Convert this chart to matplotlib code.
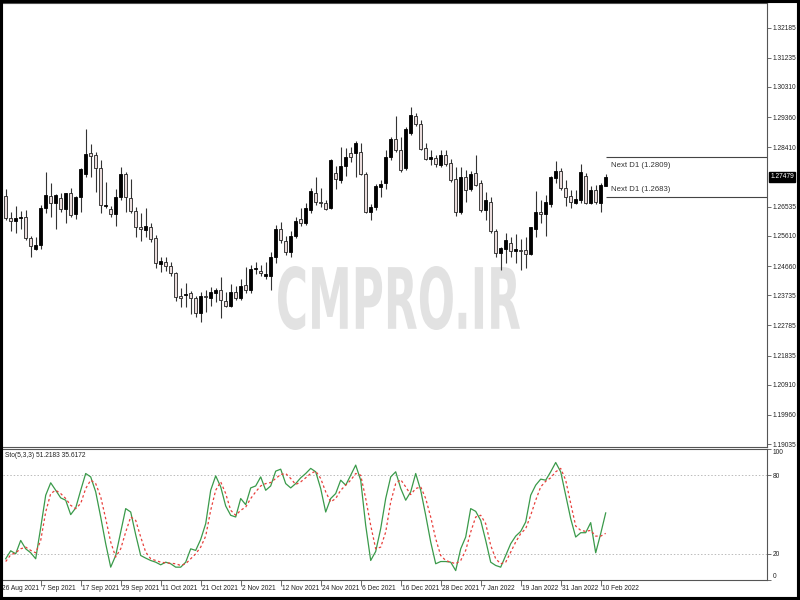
import numpy as np
import matplotlib
matplotlib.use('Agg')
import matplotlib.pyplot as plt
from matplotlib.textpath import TextPath
from matplotlib.patches import PathPatch, Rectangle
from matplotlib.font_manager import FontProperties
from matplotlib.transforms import Affine2D, blended_transform_factory

plt.rcParams['font.family'] = ['Liberation Sans', 'DejaVu Sans']

# daily GBPUSD-like candles, 27 Aug 2021 .. 11 Feb 2022
opens = [1.2687, 1.2617, 1.2607, 1.2617, 1.2622, 1.2554, 1.2521, 1.2533, 1.2648, 1.2688,
         1.2664, 1.2682, 1.2645, 1.2696, 1.2629, 1.2683, 1.2757, 1.2822, 1.2816, 1.2775,
         1.2656, 1.2647, 1.2629, 1.2685, 1.2756, 1.2680, 1.2641, 1.2589, 1.2580, 1.2590,
         1.2554, 1.2473, 1.2478, 1.2466, 1.2445, 1.2372, 1.2375, 1.2380, 1.2364, 1.2317,
         1.2372, 1.2366, 1.2381, 1.2390, 1.2357, 1.2340, 1.2383, 1.2366, 1.2405, 1.2390,
         1.2457, 1.2451, 1.2435, 1.2435, 1.2494, 1.2582, 1.2546, 1.2511, 1.2561, 1.2615,
         1.2601, 1.2643, 1.2698, 1.2669, 1.2664, 1.2648, 1.2759, 1.2738, 1.2782, 1.2822,
         1.2822, 1.2827, 1.2757, 1.2638, 1.2652, 1.2715, 1.2727, 1.2811, 1.2866, 1.2832,
         1.2775, 1.2885, 1.2940, 1.2914, 1.2838, 1.2805, 1.2806, 1.2785, 1.2817, 1.2790,
         1.2740, 1.2635, 1.2746, 1.2708, 1.2759, 1.2727, 1.2643, 1.2669, 1.2575, 1.2506,
         1.2519, 1.2538, 1.2515, 1.2517, 1.2517, 1.2504, 1.2582, 1.2638, 1.2630, 1.2662,
         1.2743, 1.2767, 1.2712, 1.2687, 1.2666, 1.2675, 1.2750, 1.2664, 1.2706, 1.2666,
         1.2719]
highs = [1.2709, 1.2638, 1.2656, 1.2641, 1.2643, 1.2561, 1.2557, 1.2659, 1.2764, 1.2727,
         1.2694, 1.2698, 1.2698, 1.2712, 1.2687, 1.2775, 1.2898, 1.2851, 1.2827, 1.2801,
         1.2732, 1.2656, 1.2709, 1.2778, 1.2764, 1.2740, 1.2652, 1.2633, 1.2648, 1.2603,
         1.2564, 1.2496, 1.2494, 1.2480, 1.2448, 1.2398, 1.2411, 1.2386, 1.2372, 1.2383,
         1.2390, 1.2400, 1.2396, 1.2430, 1.2383, 1.2409, 1.2404, 1.2424, 1.2464, 1.2469,
         1.2480, 1.2469, 1.2480, 1.2511, 1.2596, 1.2606, 1.2561, 1.2575, 1.2622, 1.2648,
         1.2664, 1.2712, 1.2746, 1.2712, 1.2675, 1.2803, 1.2782, 1.2843, 1.2838, 1.2843,
         1.2859, 1.2854, 1.2764, 1.2662, 1.2725, 1.2738, 1.2832, 1.2873, 1.2938, 1.2874,
         1.2904, 1.2969, 1.2948, 1.2927, 1.2854, 1.2832, 1.2817, 1.2832, 1.2832, 1.2803,
         1.2780, 1.2780, 1.2769, 1.2767, 1.2817, 1.2736, 1.2701, 1.2683, 1.2582, 1.2527,
         1.2571, 1.2559, 1.2567, 1.2550, 1.2559, 1.2588, 1.2704, 1.2675, 1.2690, 1.2750,
         1.2799, 1.2775, 1.2738, 1.2706, 1.2706, 1.2788, 1.2759, 1.2717, 1.2722, 1.2727,
         1.2757]
lows = [1.2612, 1.2575, 1.2570, 1.2582, 1.2548, 1.2496, 1.2517, 1.2519, 1.2633, 1.2622,
        1.2582, 1.2638, 1.2603, 1.2622, 1.2616, 1.2638, 1.2748, 1.2748, 1.2701, 1.2633,
        1.2648, 1.2622, 1.2593, 1.2675, 1.2636, 1.2633, 1.2559, 1.2546, 1.2559, 1.2543,
        1.2459, 1.2448, 1.2451, 1.2435, 1.2356, 1.2338, 1.2338, 1.2314, 1.2306, 1.2290,
        1.2322, 1.2340, 1.2354, 1.2301, 1.2338, 1.2338, 1.2359, 1.2359, 1.2380, 1.2380,
        1.2441, 1.2435, 1.2424, 1.2390, 1.2475, 1.2540, 1.2501, 1.2496, 1.2554, 1.2593,
        1.2596, 1.2633, 1.2659, 1.2652, 1.2643, 1.2645, 1.2708, 1.2729, 1.2750, 1.2795,
        1.2746, 1.2754, 1.2633, 1.2611, 1.2643, 1.2685, 1.2708, 1.2801, 1.2827, 1.2764,
        1.2769, 1.2880, 1.2908, 1.2832, 1.2801, 1.2785, 1.2780, 1.2780, 1.2782, 1.2732,
        1.2624, 1.2630, 1.2669, 1.2704, 1.2717, 1.2638, 1.2611, 1.2569, 1.2494, 1.2454,
        1.2475, 1.2496, 1.2475, 1.2454, 1.2459, 1.2501, 1.2559, 1.2601, 1.2561, 1.2653,
        1.2729, 1.2706, 1.2656, 1.2648, 1.2662, 1.2666, 1.2662, 1.2662, 1.2662, 1.2638,
        1.2717]
closes = [1.2618, 1.2607, 1.2617, 1.2620, 1.2554, 1.2529, 1.2532, 1.2648, 1.2691, 1.2664,
          1.2691, 1.2645, 1.2696, 1.2627, 1.2683, 1.2772, 1.2818, 1.2813, 1.2775, 1.2659,
          1.2659, 1.2629, 1.2685, 1.2757, 1.2683, 1.2641, 1.2588, 1.2582, 1.2593, 1.2551,
          1.2475, 1.2483, 1.2465, 1.2443, 1.2369, 1.2364, 1.2378, 1.2366, 1.2317, 1.2372,
          1.2369, 1.2383, 1.2390, 1.2359, 1.2340, 1.2383, 1.2366, 1.2403, 1.2390, 1.2457,
          1.2460, 1.2443, 1.2441, 1.2494, 1.2582, 1.2548, 1.2511, 1.2561, 1.2609, 1.2601,
          1.2648, 1.2704, 1.2669, 1.2666, 1.2645, 1.2801, 1.2740, 1.2782, 1.2811, 1.2809,
          1.2854, 1.2757, 1.2638, 1.2653, 1.2717, 1.2725, 1.2809, 1.2866, 1.2832, 1.2769,
          1.2898, 1.2943, 1.2914, 1.2835, 1.2803, 1.2809, 1.2788, 1.2817, 1.2788, 1.2738,
          1.2635, 1.2746, 1.2706, 1.2757, 1.2722, 1.2643, 1.2675, 1.2575, 1.2506, 1.2522,
          1.2548, 1.2515, 1.2519, 1.2514, 1.2504, 1.2588, 1.2638, 1.2630, 1.2669, 1.2746,
          1.2767, 1.2712, 1.2685, 1.2669, 1.2679, 1.2764, 1.2666, 1.2706, 1.2669, 1.2722,
          1.27479]

# Stochastic(5,3,3): main (%K) and signal (%D)
sto_main = [16.2, 22.3, 20.0, 30.2, 23.8, 20.8, 16.2, 40.0, 64.7, 74.2,
            68.5, 62.7, 60.9, 49.9, 55.0, 68.5, 81.3, 78.7, 67.3, 48.1,
            27.7, 9.8, 18.7, 36.6, 54.5, 51.9, 34.6, 18.7, 16.7, 14.9,
            13.6, 11.6, 13.6, 12.4, 9.8, 9.8, 13.6, 23.8, 22.6, 31.0,
            43.0, 68.5, 79.5, 71.1, 56.5, 49.4, 48.1, 62.2, 57.5, 70.3,
            71.8, 78.7, 68.5, 71.8, 83.1, 84.6, 73.6, 70.3, 73.6, 78.0,
            81.3, 85.2, 82.6, 69.8, 51.9, 62.2, 66.0, 76.2, 72.4, 80.0,
            87.7, 76.2, 41.7, 14.9, 21.8, 39.2, 62.2, 78.7, 82.6, 70.0,
            60.9, 67.3, 81.3, 68.5, 49.4, 29.0, 12.4, 14.1, 14.1, 13.6,
            7.2, 23.8, 32.8, 54.5, 52.4, 45.5, 30.2, 13.6, 11.1, 9.8,
            18.7, 27.7, 33.5, 37.1, 44.3, 64.7, 72.4, 77.0, 76.2, 82.6,
            89.7, 82.6, 64.7, 46.8, 32.8, 36.1, 36.1, 43.8, 20.8, 35.4,
            51.2183]
sto_signal = [14.1, 19.2, 20.8, 23.8, 25.1, 22.6, 20.8, 30.2, 51.9, 66.0,
              68.5, 66.0, 62.2, 57.0, 54.5, 58.4, 69.8, 76.2, 73.6, 63.5,
              46.8, 29.0, 17.5, 23.8, 36.6, 48.1, 45.5, 32.8, 21.3, 16.2,
              14.9, 13.6, 13.1, 12.8, 12.4, 11.1, 12.4, 16.2, 20.0, 25.1,
              33.5, 53.2, 68.5, 74.9, 66.0, 53.2, 49.4, 53.2, 55.7, 62.2,
              67.3, 71.8, 73.6, 74.4, 77.5, 80.5, 81.3, 77.5, 72.9, 74.9,
              78.0, 81.3, 83.1, 77.5, 67.3, 59.6, 62.2, 68.5, 72.4, 76.2,
              81.3, 80.0, 62.2, 41.7, 23.8, 25.1, 36.6, 59.6, 73.6, 76.6,
              71.1, 65.2, 69.8, 71.1, 62.2, 48.1, 31.5, 18.7, 14.9, 13.6,
              12.4, 14.9, 22.6, 36.6, 48.1, 49.4, 43.0, 26.4, 16.2, 12.4,
              13.6, 21.3, 29.0, 35.4, 39.2, 49.4, 60.9, 71.1, 75.4, 78.0,
              82.6, 85.2, 76.2, 58.4, 41.2, 37.9, 37.1, 37.9, 33.5, 33.5,
              35.6172]

date_labels = ['26 Aug 2021', '7 Sep 2021', '17 Sep 2021', '29 Sep 2021', '11 Oct 2021',
               '21 Oct 2021', '2 Nov 2021', '12 Nov 2021', '24 Nov 2021', '6 Dec 2021',
               '16 Dec 2021', '28 Dec 2021', '7 Jan 2022', '19 Jan 2022', '31 Jan 2022',
               '10 Feb 2022']
date_bars = [-1, 7, 15, 23, 31, 39, 47, 55, 63, 71, 79, 87, 95, 103, 111, 119]

price_ticks = [1.32185, 1.31235, 1.30310, 1.29360, 1.28410, 1.26535, 1.25610,
               1.24660, 1.23735, 1.22785, 1.21835, 1.20910, 1.19960, 1.19035]
next_d1 = [1.2809, 1.2683]
sto_levels = [80, 20]

o = np.array(opens)
h = np.array(highs)
l = np.array(lows)
c = np.array(closes)
x = np.arange(len(c))
bull = c >= o

fig = plt.figure(figsize=(8, 6), dpi=100)
fig.patch.set_facecolor('white')
W, H = 800.0, 600.0
ax = fig.add_axes([3 / W, (H - 447) / H, 764 / W, 444 / H])
ax2 = fig.add_axes([3 / W, (H - 580) / H, 764 / W, 131 / H], sharex=ax)

spine_col = '#555555'
fs = 4.8

# watermark
wm = TextPath((0, 0), 'CMPRO.IR', size=1,
              prop=FontProperties(family='DejaVu Sans', weight='bold'))
bb = wm.get_extents()
sx = 242 / bb.width
sy = 64 / bb.height
tr = Affine2D().translate(-bb.x0, -bb.y0).scale(sx, sy).translate(278, H - 330)
ax.add_patch(PathPatch(wm, transform=tr, facecolor='#e2e2e2', edgecolor='none', zorder=0))

# candles
ax.vlines(x, l, h, color='#333333', linewidth=0.8, zorder=2)
body_lo = np.minimum(o, c)
body_hi = np.maximum(o, c)
ax.bar(x[bull], body_hi[bull] - body_lo[bull], bottom=body_lo[bull], width=0.62,
       color='black', edgecolor='black', linewidth=0.6, zorder=3)
ax.bar(x[~bull], body_hi[~bull] - body_lo[~bull], bottom=body_lo[~bull], width=0.62,
       color='#eadcdc', edgecolor='#222222', linewidth=0.6, zorder=3)

# Next D1 levels
for lvl, va, off in zip(next_d1, ['top', 'bottom'], [-3, 3]):
    ax.hlines(lvl, 120.1, 152.3, color='#444444', linewidth=0.8)
    ax.annotate('Next D1 (%.4f)' % lvl, xy=(121, lvl), xytext=(0, off),
                textcoords='offset points', va=va, ha='left', fontsize=5.6, color='#333333')

ax.set_xlim(-0.54, 152.26)
ax.set_ylim(1.1895, 1.3296)
ax.yaxis.tick_right()
ax.set_yticks(price_ticks)
ax.set_yticklabels(['%.5f' % t for t in price_ticks])
ax.tick_params(axis='y', length=3, width=0.6, color=spine_col, pad=1, labelsize=fs,
               labelcolor='#222222')
ax.tick_params(axis='x', bottom=False, labelbottom=False)
for s in ax.spines.values():
    s.set_color(spine_col)
    s.set_linewidth(0.8)
ax.spines['left'].set_visible(False)

# current price tag
ax.text(1.004, closes[-1], '%.5f' % closes[-1],
        transform=blended_transform_factory(ax.transAxes, ax.transData),
        va='center', ha='left', fontsize=fs, color='white', clip_on=False,
        bbox=dict(boxstyle='square,pad=0.2', facecolor='black', edgecolor='black'))

# stochastic
ax2.plot(x, sto_main, color='#3a9a4a', linewidth=0.9, zorder=3)
ax2.plot(x, sto_signal, color='#e8403c', linewidth=0.9, linestyle=(0, (2, 2)), zorder=3)
for lv in sto_levels:
    ax2.axhline(lv, color='#bbbbbb', linewidth=0.7, linestyle=(0, (1.5, 2)), zorder=1)
ax2.set_ylim(0, 100)
ax2.yaxis.tick_right()
ax2.set_yticks([100, 80, 20, 0])
ax2.set_yticklabels(['100', '80', '20', '0'])
ax2.tick_params(axis='y', length=3, width=0.6, color=spine_col, pad=1, labelsize=fs,
                labelcolor='#222222')
labs = ax2.get_yticklabels()
labs[0].set_va('top')
labs[3].set_va('bottom')
ax2.set_xticks(date_bars[1:])
ax2.set_xticklabels([''] * (len(date_bars) - 1))
ax2.tick_params(axis='x', length=4, width=0.6, color=spine_col)
for s in ax2.spines.values():
    s.set_color(spine_col)
    s.set_linewidth(0.8)
ax2.spines['left'].set_visible(False)

ax2.text(0.003, 0.975, 'Sto(5,3,3) %.4f %.4f' % (sto_main[-1], sto_signal[-1]),
         transform=ax2.transAxes, va='top', ha='left', fontsize=fs, color='#222222')

trd = blended_transform_factory(ax2.transData, ax2.transAxes)
for b, lab in zip(date_bars, date_labels):
    ax2.text(b + 0.35, -0.035, lab, transform=trd, va='top', ha='left',
             fontsize=fs, color='#222222', clip_on=False)

# black frame round the picture
fig.add_artist(Rectangle((0, 0), 1, 1, transform=fig.transFigure, fill=False,
                         edgecolor='black', linewidth=4.4, zorder=10))

fig.savefig('out.png', dpi=100, facecolor='white')
